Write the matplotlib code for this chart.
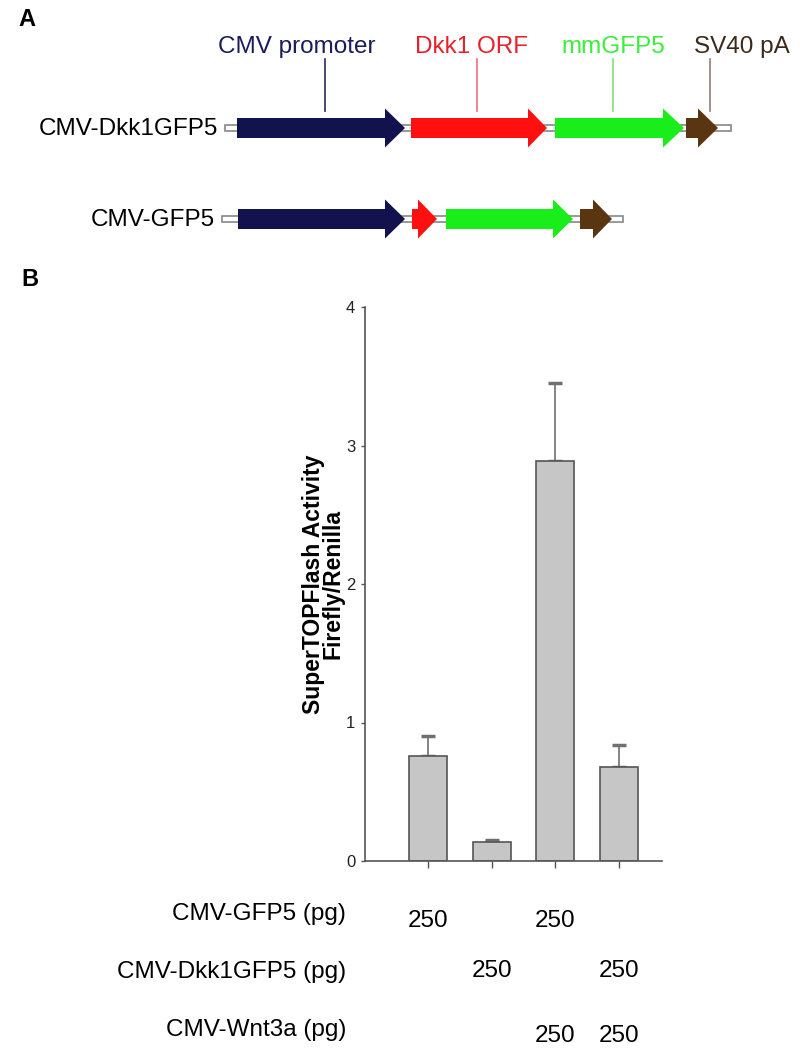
import matplotlib.pyplot as plt
import matplotlib.transforms as mtransforms
from matplotlib.patches import FancyArrow, Rectangle

plt.rcParams["font.family"] = ["Liberation Sans", "DejaVu Sans"]

# ---- panel A: construct maps (positions in map units along the plasmid) ----
construct_names = ["CMV-Dkk1GFP5", "CMV-GFP5"]
backbone_start = [225, 222]
backbone_end = [731, 623]
elem_names = ["CMV promoter", "Dkk1 ORF", "mmGFP5", "SV40 pA"]
elem_colors = ["#12124f", "#ff1010", "#1aee1a", "#5a3512"]
label_colors = ["#1c1c5c", "#e8202a", "#3aee3a", "#3a2a1a"]
leader_colors = ["#2a2a60", "#f07080", "#80e080", "#8a7f78"]
elem_start = [[237, 411, 555, 686], [238, 412, 446, 580]]
elem_end = [[405, 547, 684, 718], [405, 437, 573, 612]]
head_len = [[20, 19, 21, 20], [20, 19, 20, 19]]
label_x = [297, 472, 613, 742]
leader_x = [325, 477, 613, 710]

# ---- panel B: reporter assay ----
conditions = ["1", "2", "3", "4"]
activity = [0.76, 0.14, 2.89, 0.68]
activity_err = [0.14, 0.015, 0.56, 0.16]
yticks = [0, 1, 2, 3, 4]
row_labels = ["CMV-GFP5 (pg)", "CMV-Dkk1GFP5 (pg)", "CMV-Wnt3a (pg)"]
row_values = [["250", "", "250", ""],
              ["", "250", "", "250"],
              ["", "", "250", "250"]]

fig = plt.figure(figsize=(8, 10.5), dpi=100)
over = fig.add_axes([0, 0, 1, 1])
over.set_xlim(0, 800)
over.set_ylim(1050, 0)
over.axis("off")

over.text(27, 20, "A", fontsize=17, fontweight="bold", ha="center", va="center")
over.text(30, 280, "B", fontsize=17, fontweight="bold", ha="center", va="center")

row_y = [128, 219]
for r, name in enumerate(construct_names):
    y = row_y[r]
    over.add_patch(Rectangle((backbone_start[r], y - 3), backbone_end[r] - backbone_start[r], 6,
                             facecolor="white", edgecolor="#888888", lw=1.2, zorder=1))
    over.text(backbone_start[r] - 7, y + 1, name, fontsize=17.5, ha="right", va="center")
    for i in range(len(elem_names)):
        x0 = elem_start[r][i]
        x1 = elem_end[r][i]
        over.add_patch(FancyArrow(x0, y, x1 - x0, 0, width=20, head_width=39,
                                  head_length=head_len[r][i], length_includes_head=True,
                                  facecolor=elem_colors[i], edgecolor="none", zorder=2))

for i, lab in enumerate(elem_names):
    over.text(label_x[i], 47, lab, fontsize=17.5, color=label_colors[i], ha="center", va="center")
    over.plot([leader_x[i], leader_x[i]], [59, 111], color=leader_colors[i], lw=1.2)

# bar chart
ax = fig.add_axes([365 / 800, 1 - 861 / 1050, 297 / 800, 554 / 1050])
xpos = list(range(len(conditions)))
ax.bar(xpos, activity, width=0.6, color="#c6c6c6", edgecolor="#555555", linewidth=1.2, zorder=2)
ax.errorbar(xpos, activity, yerr=[[0] * len(activity), activity_err], fmt="none",
            ecolor="#707070", elinewidth=1.2, capsize=5, capthick=2.5, zorder=1)
ax.set_xlim(-0.99, 3.675)
ax.set_ylim(0, 4)
ax.set_yticks(yticks)
ax.set_xticks(xpos)
ax.set_xticklabels([])
ax.tick_params(axis="y", direction="out", length=3, width=1, labelsize=12, pad=4, colors="#555555",
               labelcolor="#222222")
ax.tick_params(axis="x", direction="out", length=5, width=1, colors="#555555")
for s in ["top", "right"]:
    ax.spines[s].set_visible(False)
for s in ["left", "bottom"]:
    ax.spines[s].set_color("#555555")
    ax.spines[s].set_linewidth(1.2)
ax.set_ylabel("SuperTOPFlash Activity\nFirefly/Renilla", fontsize=16.5, fontweight="bold",
              linespacing=0.85)
ax.yaxis.set_label_coords(-0.068, 0.5)

# amounts table under the bars
tr = mtransforms.blended_transform_factory(ax.transData, over.transData)
label_y = [914, 972, 1030]
value_y = [921, 971, 1036]
for r, lab in enumerate(row_labels):
    over.text(346, label_y[r], lab, fontsize=17.5, ha="right", va="center")
    for c, v in enumerate(row_values[r]):
        if v:
            ax.text(xpos[c], value_y[r], v, fontsize=17.5, ha="center", va="center",
                    transform=tr, clip_on=False)

fig.savefig("out.png", dpi=100)
